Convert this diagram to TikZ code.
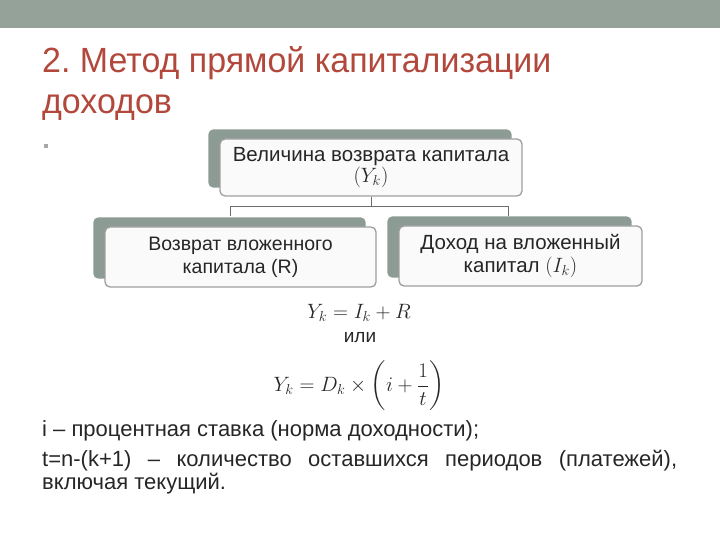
\documentclass[tikz,border=0pt]{standalone}
\usepackage{amsmath}
\usepackage{fontspec}
\setmainfont{Liberation Sans}
\newfontfamily\narrowfont[FakeStretch=0.97]{Liberation Sans}
\usetikzlibrary{backgrounds}
\frenchspacing
\definecolor{bargray}{RGB}{148,162,154}
\definecolor{boxgray}{RGB}{140,156,148}
\definecolor{titlered}{RGB}{178,72,60}
\definecolor{txt}{RGB}{38,38,38}
\tikzset{
  frontbox/.style={draw=gray!75, line width=1.3pt, fill=white!96!gray, rounded corners=5pt,
    inner sep=2pt, align=center, text=txt},
  backbox/.style={fill=boxgray, rounded corners=5pt},
  linkline/.style={draw=gray!85!black, line width=1pt},
  note/.style={anchor=base west, inner sep=0, text=txt, font=\fontsize{22}{22}\selectfont}
}
\newcommand{\backof}[1]{%
  \fill[backbox] ([shift={(-11,-9)}]#1.south west) rectangle ([shift={(-11,-9)}]#1.north east);}
\begin{document}
\begin{tikzpicture}[x=1pt, y=-1pt]
	\useasboundingbox (0,0) rectangle (720,540);
	\fill[bargray] (0,0) rectangle (720,28);
	% title
	\node[anchor=base west, inner sep=0, text=titlered, font=\narrowfont\fontsize{35}{35}\selectfont] (title1) at (42,73) {2. Метод прямой капитализации};
	\node[anchor=base west, inner sep=0, text=titlered, font=\narrowfont\fontsize{35}{35}\selectfont] (title2) at (42,114) {доходов};
	\node[fill=gray!70, minimum size=4pt, inner sep=0] (dot) at (46,146) {};
	% boxes
	\node[frontbox, minimum width=302pt, minimum height=57pt, font=\fontsize{20.5}{21}\selectfont] (top) at (371,167.5) {Величина возврата капитала\\$(Y_k)$};
	\node[frontbox, minimum width=271pt, minimum height=60pt, font=\fontsize{19.5}{23}\selectfont] (ret) at (240.5,257) {Возврат вложенного\\капитала (R)};
	\node[frontbox, minimum width=243pt, minimum height=60pt, font=\fontsize{20.5}{23}\selectfont] (inc) at (520.5,256) {Доход на вложенный\\капитал $(I_k)$};
	\begin{pgfonlayer}{background}
		\backof{top} \backof{ret} \backof{inc}
	\end{pgfonlayer}
	\coordinate (fork) at (top.south |- 0,207);
	\draw[linkline] (top.south) -- (fork);
	\draw[linkline] (230,216) -- (230,207) -- (508,207) -- (508,216);
	% formulas
	\node[text=txt, inner sep=0, font=\fontsize{20}{20}\selectfont] (f1) at (359,313) {$Y_k = I_k + R$};
	\node[text=txt, inner sep=0, font=\fontsize{19}{19}\selectfont] (ili) at (360,338) {или};
	\node[text=txt, inner sep=0, font=\fontsize{20}{20}\selectfont] (f2) at (359,386) {$Y_k = D_k \times \left(i + \dfrac{1}{t}\right)$};
	% notes
	\node[note] (n1) at (42,436) {i – процентная ставка (норма доходности);};
	\node[note] (n2) at (42,466) {\hbox to 635pt{t=n-(k+1)\hfill–\hfill количество\hfill оставшихся\hfill периодов\hfill (платежей),}};
	\node[note] (n3) at (42,489) {включая текущий.};
\end{tikzpicture}
\end{document}
